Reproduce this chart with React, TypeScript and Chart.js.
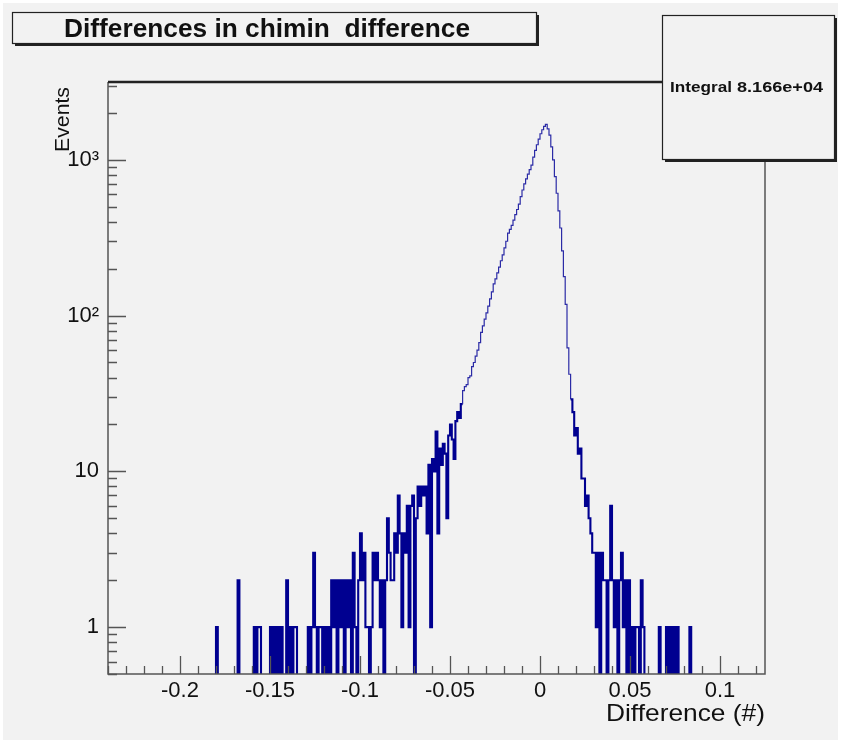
import React, { useEffect, useRef } from 'react';
import { Chart, registerables } from 'chart.js';

Chart.register(...registerables);

// ---------------- data ----------------
const BIN_WIDTH = 0.001;

// bins from -0.190 to -0.061 (low edges)
const LEFT_TAIL_START = -0.19;
const leftTail = [
  0, 0, 0, 0, 0, 0, 0, 0, 0, 0,
  1, 0, 0, 0, 0, 0, 0, 0, 0, 0,
  0, 0, 2, 0, 0, 0, 0, 0, 0, 0,
  0, 1, 0, 1, 1, 0, 0, 0, 0, 0,
  1, 0, 1, 0, 1, 0, 1, 0, 0, 2,
  0, 1, 0, 1, 1, 0, 0, 0, 0, 0,
  0, 1, 0, 1, 3, 1, 0, 1, 1, 0,
  1, 0, 1, 0, 2, 1, 2, 0, 2, 1,
  2, 0, 2, 1, 2, 0, 3, 1, 0, 2,
  4, 2, 3, 1, 1, 0, 1, 3, 2, 3,
  2, 1, 2, 0, 2, 5, 3, 2, 2, 4,
  3, 7, 4, 1, 4, 3, 6, 1, 6, 7,
  0, 5, 8, 6, 8, 7, 8, 4, 11, 1,
];

// bins from -0.060 to 0.029
const CORE_START = -0.06;
const core = [
  12, 10, 18, 4, 14, 11, 15, 13, 5, 17,
  20, 16, 12, 21, 24, 22, 27, 33, 35, 36,
  40, 41, 47, 50, 55, 60, 67, 78, 86, 95,
  104, 115, 128, 142, 160, 172, 188, 205, 225, 245,
  272, 300, 338, 358, 380, 410, 445, 480, 520, 580,
  640, 700, 755, 810, 865, 925, 1040, 1150, 1250, 1360,
  1470, 1560, 1640, 1690, 1580, 1440, 1210, 1000, 780, 610,
  470, 365, 260, 178, 118, 62, 42, 29, 24, 17,
  19, 13, 14, 9, 9, 6, 7, 5, 4, 3,
];

// bins from 0.030 to 0.089
const RIGHT_TAIL_START = 0.03;
const rightTail = [
  3, 1, 3, 0, 3, 2, 2, 0, 2, 6,
  2, 1, 2, 0, 2, 3, 1, 2, 0, 2,
  0, 1, 0, 1, 1, 0, 2, 1, 0, 0,
  0, 0, 0, 0, 0, 0, 1, 0, 0, 0,
  1, 0, 1, 0, 1, 0, 1, 0, 0, 0,
  0, 0, 0, 1, 0, 0, 0, 0, 0, 0,
];

const X_MIN = -0.24;
const X_MAX = 0.125;
const Y_MIN = 0.5;
const Y_MAX = 3160;

const xTicks = [-0.2, -0.15, -0.1, -0.05, 0, 0.05, 0.1];
const xTickLabels = ['-0.2', '-0.15', '-0.1', '-0.05', '0', '0.05', '0.1'];
const yTicks = [1, 10, 100, 1000];
const yTickLabels = ['1', '10', '10\u00B2', '10\u00B3'];

const TITLE = 'Differences in chimin  difference';
const STATS_LABEL = 'Integral';
const STATS_VALUE = '8.166e+04';
const X_TITLE = 'Difference (#)';
const Y_TITLE = 'Events';

// ---------------- style ----------------
const FONT = "'Liberation Sans', Arial, Helvetica, sans-serif";
const BG = '#f2f2f2';
const HIST_DARK = '#000090';
const HIST_LIGHT = '#2b2ba6';
const ZERO_FLOOR = 0.05;

function stepPoints() {
  const pts: { x: number; y: number }[] = [];
  const add = (start: number, arr: number[]) => {
    arr.forEach((c, i) => {
      const lo = +(start + i * BIN_WIDTH).toFixed(4);
      const hi = +(lo + BIN_WIDTH).toFixed(4);
      const y = c > 0 ? c : ZERO_FLOOR;
      pts.push({ x: lo, y }, { x: hi, y });
    });
  };
  add(LEFT_TAIL_START, leftTail);
  add(CORE_START, core);
  add(RIGHT_TAIL_START, rightTail);
  return pts;
}

function stretchText(ctx: CanvasRenderingContext2D, text: string, x: number, y: number, width: number) {
  const w = ctx.measureText(text).width;
  ctx.save();
  ctx.translate(x, y);
  ctx.scale(width / w, 1);
  ctx.fillText(text, 0, 0);
  ctx.restore();
}

function pave(ctx: CanvasRenderingContext2D, x1: number, y1: number, x2: number, y2: number) {
  ctx.fillStyle = '#222';
  ctx.fillRect(x1 + 3, y2, x2 - x1, 3);
  ctx.fillRect(x2, y1 + 3, 3, y2 - y1);
  ctx.fillStyle = BG;
  ctx.fillRect(x1, y1, x2 - x1, y2 - y1);
  ctx.strokeStyle = '#222';
  ctx.lineWidth = 1.2;
  ctx.strokeRect(x1 + 0.5, y1 + 0.5, x2 - x1, y2 - y1);
}

const rootStyle = {
  id: 'rootStyle',
  beforeDraw(chart: any) {
    const ctx = chart.ctx as CanvasRenderingContext2D;
    ctx.save();
    ctx.fillStyle = '#ffffff';
    ctx.fillRect(0, 0, chart.width, chart.height);
    ctx.fillStyle = BG;
    ctx.fillRect(3, 3, chart.width - 6, chart.height - 6);
    ctx.restore();
  },
  afterDraw(chart: any) {
    const ctx = chart.ctx as CanvasRenderingContext2D;
    const { left, top, right, bottom } = chart.chartArea;
    const xs = chart.scales.x;
    const ys = chart.scales.y;
    ctx.save();

    // frame
    ctx.strokeStyle = '#555';
    ctx.lineWidth = 1.5;
    ctx.beginPath();
    ctx.moveTo(left, top);
    ctx.lineTo(left, bottom);
    ctx.lineTo(right, bottom);
    ctx.lineTo(right, top);
    ctx.stroke();
    ctx.strokeStyle = '#222';
    ctx.lineWidth = 2.5;
    ctx.beginPath();
    ctx.moveTo(left, top);
    ctx.lineTo(right, top);
    ctx.stroke();

    // x ticks (inside)
    ctx.strokeStyle = '#555';
    ctx.lineWidth = 1.3;
    ctx.beginPath();
    for (let k = Math.ceil(X_MIN / 0.01 - 1e-9); k * 0.01 <= X_MAX + 1e-9; k++) {
      const px = Math.round(xs.getPixelForValue(k * 0.01)) + 0.5;
      const len = k % 5 === 0 ? 18 : 8;
      ctx.moveTo(px, bottom);
      ctx.lineTo(px, bottom - len);
    }
    // y ticks (inside)
    for (let d = -1; d <= 3; d++) {
      for (let m = 1; m <= 9; m++) {
        const v = m * Math.pow(10, d);
        if (v < Y_MIN || v > Y_MAX) continue;
        const py = Math.round(ys.getPixelForValue(v)) + 0.5;
        const len = m === 1 ? 18 : 9;
        ctx.moveTo(left, py);
        ctx.lineTo(left + len, py);
      }
    }
    ctx.stroke();

    // axis titles
    ctx.fillStyle = '#111';
    ctx.font = `24px ${FONT}`;
    ctx.textAlign = 'left';
    ctx.textBaseline = 'alphabetic';
    stretchText(ctx, X_TITLE, 606, 721, 159);

    ctx.save();
    ctx.translate(69, 152);
    ctx.rotate(-Math.PI / 2);
    ctx.font = `21px ${FONT}`;
    stretchText(ctx, Y_TITLE, 0, 0, 65);
    ctx.restore();

    // title pave
    pave(ctx, 12, 12, 536, 43);
    ctx.fillStyle = '#111';
    ctx.font = `bold 25px ${FONT}`;
    ctx.textBaseline = 'alphabetic';
    stretchText(ctx, TITLE, 64, 37, 406);

    // stats pave
    pave(ctx, 662, 15, 834, 159);
    ctx.fillStyle = '#111';
    ctx.font = `bold 14px ${FONT}`;
    stretchText(ctx, STATS_LABEL, 670, 92, 62);
    stretchText(ctx, STATS_VALUE, 737, 92, 86);

    ctx.restore();
  },
};

export default function App() {
  const canvasRef = useRef<HTMLCanvasElement | null>(null);

  useEffect(() => {
    document.body.style.margin = '0';
    document.body.style.overflow = 'hidden';
    const canvas = canvasRef.current;
    if (!canvas) return;
    const isLow = (c: any) => c.p0.parsed.y < 30 && c.p1.parsed.y < 30;
    const chart = new Chart(canvas, {
      type: 'line',
      data: {
        datasets: [
          {
            data: stepPoints(),
            borderColor: HIST_LIGHT,
            borderWidth: 1.2,
            pointRadius: 0,
            pointHoverRadius: 0,
            fill: false,
            tension: 0,
            clip: 0,
            segment: {
              borderWidth: (c: any) => (isLow(c) ? 2.1 : 1.2),
              borderColor: (c: any) => (isLow(c) ? HIST_DARK : HIST_LIGHT),
            },
          } as any,
        ],
      },
      options: {
        responsive: false,
        animation: false,
        devicePixelRatio: 1,
        events: [],
        layout: { padding: { left: 0, top: 82, right: 76, bottom: 0 } },
        plugins: {
          legend: { display: false },
          tooltip: { enabled: false },
          title: { display: false },
        },
        scales: {
          x: {
            type: 'linear',
            min: X_MIN,
            max: X_MAX,
            grid: { display: false, drawTicks: false },
            border: { display: false },
            afterBuildTicks: (s: any) => {
              s.ticks = xTicks.map((v) => ({ value: v }));
            },
            afterFit: (s: any) => {
              s.height = 69;
            },
            ticks: {
              autoSkip: false,
              maxRotation: 0,
              padding: 4,
              color: '#111',
              font: { family: FONT, size: 22 },
              callback: (value: any) => {
                const i = xTicks.findIndex((t) => Math.abs(t - Number(value)) < 1e-9);
                return i >= 0 ? xTickLabels[i] : '';
              },
            },
          },
          y: {
            type: 'logarithmic',
            min: Y_MIN,
            max: Y_MAX,
            grid: { display: false, drawTicks: false },
            border: { display: false },
            afterBuildTicks: (s: any) => {
              s.ticks = yTicks.map((v) => ({ value: v }));
            },
            afterFit: (s: any) => {
              s.width = 108;
            },
            ticks: {
              autoSkip: false,
              padding: 9,
              color: '#111',
              font: { family: FONT, size: 22 },
              callback: (value: any) => {
                const i = yTicks.findIndex((t) => Math.abs(t - Number(value)) < 1e-6);
                return i >= 0 ? yTickLabels[i] : '';
              },
            },
          },
        },
      } as any,
      plugins: [rootStyle],
    });
    return () => chart.destroy();
  }, []);

  return (
    <div style={{ width: 841, height: 743 }}>
      <canvas ref={canvasRef} width={841} height={743} style={{ display: 'block', width: 841, height: 743 }} />
    </div>
  );
}
